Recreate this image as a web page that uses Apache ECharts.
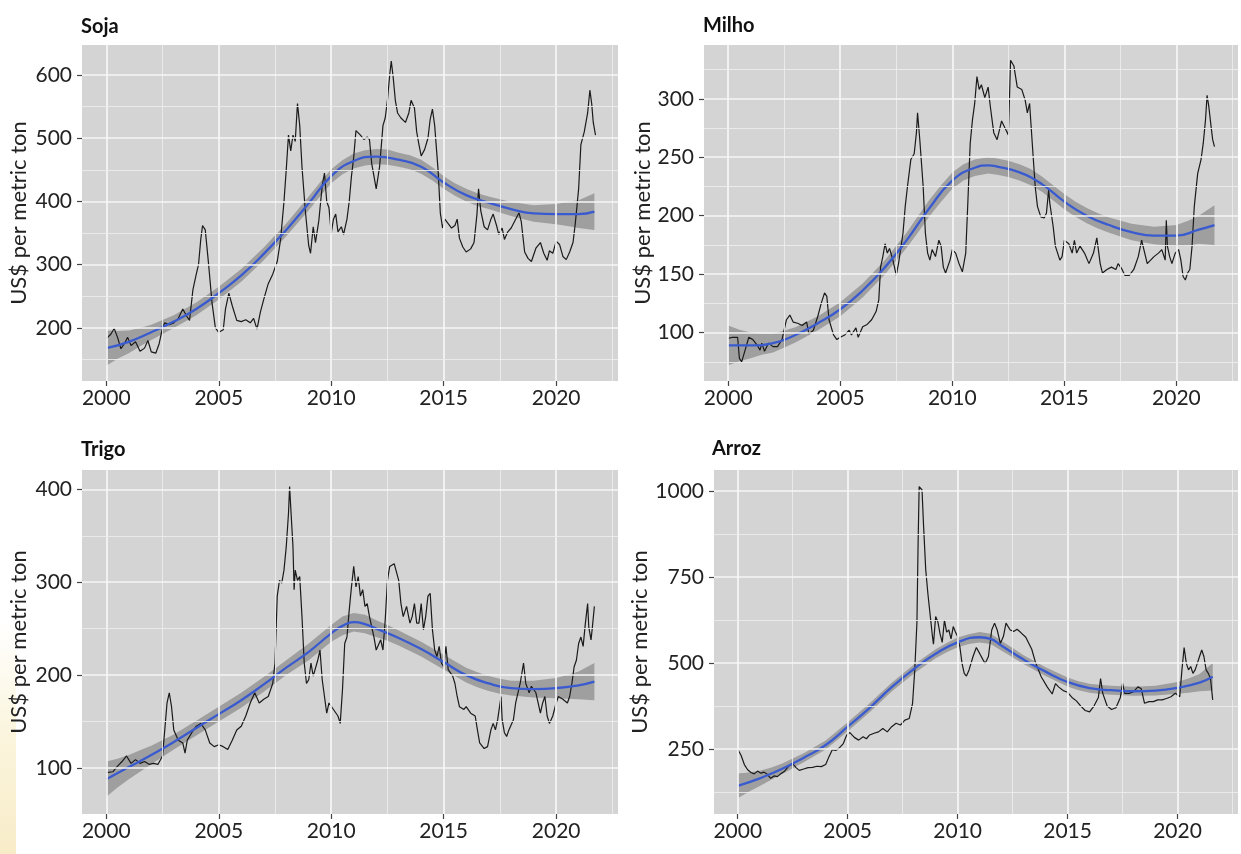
<!DOCTYPE html>
<html><head><meta charset="utf-8">
<script src="https://cdn.jsdelivr.net/npm/echarts@6/dist/echarts.min.js"></script>
<style>html,body{margin:0;padding:0;background:#fff}#c{width:1241px;height:854px}</style>
</head><body><div id="c"></div><script>
// ---------- DATA ----------
const panelTitles = ['Soja', 'Milho', 'Trigo', 'Arroz'];
const yAxisTitle = 'US$ per metric ton';
const yearTicks = [2000, 2005, 2010, 2015, 2020];
const yearMinor = [2002.5, 2007.5, 2012.5, 2017.5, 2022.5];

const sojaTicks = [200, 300, 400, 500, 600];
const sojaMinor = [150, 250, 350, 450, 550];
const milhoTicks = [100, 150, 200, 250, 300];
const milhoMinor = [75, 125, 175, 225, 275, 325];
const trigoTicks = [100, 200, 300, 400];
const trigoMinor = [150, 250, 350];
const arrozTicks = [250, 500, 750, 1000];
const arrozMinor = [125, 375, 625, 875];

// monthly price (year, US$/t)
const sojaPrice = [[2000.0,183],[2000.2,190],[2000.35,199],[2000.5,185],[2000.65,167],[2000.8,175],[2000.95,185],[2001.1,172],[2001.3,178],[2001.5,163],[2001.7,168],[2001.85,180],[2002.0,162],[2002.2,160],[2002.35,175],[2002.5,200],[2002.6,208],[2002.8,205],[2003.0,208],[2003.2,215],[2003.4,230],[2003.55,220],[2003.7,212],[2003.85,260],[2004.0,285],[2004.1,300],[2004.2,340],[2004.28,362],[2004.4,355],[2004.55,300],[2004.7,240],[2004.85,200],[2005.0,193],[2005.2,197],[2005.3,230],[2005.45,255],[2005.6,235],[2005.8,212],[2006.0,210],[2006.2,213],[2006.4,208],[2006.55,215],[2006.7,198],[2006.85,225],[2007.0,245],[2007.2,270],[2007.4,285],[2007.6,305],[2007.75,340],[2007.9,400],[2008.0,450],[2008.1,505],[2008.2,480],[2008.3,505],[2008.4,495],[2008.5,555],[2008.6,520],[2008.7,455],[2008.85,385],[2009.0,330],[2009.08,318],[2009.2,360],[2009.3,335],[2009.45,370],[2009.6,425],[2009.7,445],[2009.8,400],[2009.9,390],[2010.0,350],[2010.1,372],[2010.2,380],[2010.3,352],[2010.45,360],[2010.55,348],[2010.7,372],[2010.8,400],[2010.9,440],[2011.0,470],[2011.1,512],[2011.3,505],[2011.45,498],[2011.6,502],[2011.7,498],[2011.8,460],[2011.9,440],[2012.0,420],[2012.15,455],[2012.3,520],[2012.4,532],[2012.5,560],[2012.6,600],[2012.67,622],[2012.75,598],[2012.85,560],[2012.95,540],[2013.1,532],[2013.3,525],[2013.45,540],[2013.55,560],[2013.7,548],[2013.8,510],[2013.9,490],[2014.0,472],[2014.15,482],[2014.3,500],[2014.4,530],[2014.5,546],[2014.6,520],[2014.75,450],[2014.85,382],[2014.95,358],[2015.05,372],[2015.2,365],[2015.35,358],[2015.5,362],[2015.6,372],[2015.7,342],[2015.85,328],[2016.0,320],[2016.2,325],[2016.35,335],[2016.48,380],[2016.55,420],[2016.65,385],[2016.8,360],[2016.95,355],[2017.1,372],[2017.2,380],[2017.35,362],[2017.45,348],[2017.6,358],[2017.7,340],[2017.85,352],[2018.0,358],[2018.2,372],[2018.35,382],[2018.45,368],[2018.6,320],[2018.75,310],[2018.9,305],[2019.1,326],[2019.3,335],[2019.45,318],[2019.6,307],[2019.7,322],[2019.85,318],[2020.0,337],[2020.15,332],[2020.3,313],[2020.45,308],[2020.6,320],[2020.75,335],[2020.85,365],[2021.0,420],[2021.1,490],[2021.25,510],[2021.4,540],[2021.5,576],[2021.58,555],[2021.65,525],[2021.75,505]];
const sojaFit = [[2000,168],[2001,178],[2002,193],[2003,210],[2004,230],[2005,255],[2006,283],[2007,317],[2008,355],[2009,397],[2010,440],[2011,464],[2012,471],[2013,466],[2014,455],[2015,430],[2016,410],[2017,398],[2018,388],[2019,381],[2020,380],[2021,380],[2021.7,384]];
const sojaBand = [[2000,140,196],[2000.5,151,195],[2001,160,196],[2001.5,171,200],[2002,181,205],[2003,200,220],[2004,220,240],[2005,245,265],[2006,273,293],[2007,307,327],[2008,345,365],[2009,386,408],[2009.5,408,430],[2010,429,451],[2010.5,443,465],[2011,452,476],[2011.5,457,481],[2012,459,483],[2012.5,458,482],[2013,455,477],[2013.5,451,473],[2014,444,466],[2014.5,433,454],[2015,420,440],[2015.5,409,429],[2016,400,420],[2016.5,393,413],[2017,388,408],[2018,377,399],[2019,368,394],[2020,364,396],[2020.5,361,399],[2021,358,402],[2021.7,355,413]];

const milhoPrice = [[2000.0,95],[2000.2,96],[2000.42,96],[2000.5,78],[2000.6,75],[2000.8,88],[2000.92,96],[2001.1,94],[2001.3,89],[2001.42,85],[2001.5,91],[2001.62,84],[2001.8,91],[2002.0,88],[2002.2,88],[2002.4,94],[2002.6,111],[2002.75,115],[2002.9,109],[2003.1,108],[2003.3,106],[2003.5,109],[2003.6,99],[2003.8,102],[2004.0,114],[2004.15,125],[2004.3,134],[2004.4,131],[2004.5,111],[2004.7,98],[2004.85,94],[2005.0,96],[2005.2,98],[2005.4,102],[2005.5,98],[2005.7,104],[2005.8,96],[2006.0,105],[2006.2,107],[2006.4,111],[2006.6,118],[2006.72,128],[2006.8,156],[2006.9,165],[2007.0,176],[2007.1,168],[2007.2,172],[2007.35,162],[2007.5,149],[2007.6,159],[2007.8,185],[2007.9,208],[2008.0,225],[2008.15,248],[2008.3,253],[2008.4,271],[2008.45,288],[2008.55,265],[2008.7,225],[2008.8,185],[2008.9,168],[2009.0,162],[2009.1,171],[2009.25,165],[2009.4,179],[2009.5,174],[2009.6,156],[2009.7,151],[2009.9,162],[2010.0,171],[2010.15,168],[2010.3,159],[2010.45,152],[2010.6,168],[2010.7,214],[2010.8,262],[2010.9,282],[2011.0,296],[2011.1,319],[2011.2,308],[2011.3,312],[2011.45,301],[2011.6,310],[2011.7,293],[2011.85,271],[2012.0,265],[2012.1,273],[2012.2,281],[2012.4,273],[2012.5,269],[2012.55,299],[2012.6,333],[2012.75,328],[2012.9,310],[2013.1,308],[2013.25,299],[2013.35,288],[2013.45,296],[2013.6,253],[2013.7,225],[2013.8,208],[2013.95,199],[2014.1,198],[2014.2,202],[2014.3,222],[2014.35,211],[2014.5,191],[2014.6,174],[2014.8,162],[2014.9,165],[2015.0,179],[2015.2,176],[2015.35,168],[2015.45,179],[2015.55,168],[2015.7,174],[2015.9,168],[2016.1,159],[2016.3,168],[2016.45,181],[2016.6,159],[2016.7,151],[2016.9,154],[2017.1,156],[2017.3,154],[2017.4,159],[2017.55,155],[2017.7,149],[2017.9,149],[2018.1,154],[2018.3,165],[2018.45,179],[2018.55,171],[2018.7,159],[2018.85,162],[2019.0,165],[2019.2,168],[2019.35,171],[2019.5,162],[2019.55,196],[2019.6,174],[2019.7,165],[2019.8,159],[2019.95,168],[2020.1,171],[2020.2,162],[2020.3,148],[2020.4,145],[2020.5,151],[2020.6,154],[2020.7,174],[2020.8,208],[2020.95,236],[2021.1,248],[2021.2,262],[2021.3,282],[2021.37,303],[2021.45,293],[2021.55,276],[2021.62,265],[2021.7,259]];
const milhoFit = [[2000,89],[2001,89],[2002,91],[2003,98],[2004,108],[2005,120],[2006,136],[2007,156],[2008,180],[2009,207],[2010,230],[2011,241],[2011.6,243],[2012,242],[2013,237],[2014,227],[2015,212],[2016,200],[2017,192],[2018,186],[2019,183],[2020,183],[2021,188],[2021.7,192]];
const milhoBand = [[2000,72,106],[2000.5,75.5,102.5],[2001,78,100],[2001.5,81,99],[2002,83,99],[2003,91.5,104.5],[2004,102,114],[2005,114,126],[2006,130,142],[2007,150,162],[2008,173.5,186.5],[2008.5,186.5,200.5],[2009,200,214],[2009.5,212,226],[2010,223,237],[2010.5,230,244],[2011,234,248],[2011.6,236,250],[2012,235,249],[2012.5,233,247],[2013,230,244],[2013.5,226,240],[2014,220.5,233.5],[2014.5,213,226],[2015,205.5,218.5],[2015.5,199,212],[2016,193.5,206.5],[2016.5,189,202],[2017,185.5,198.5],[2018,179,193],[2019,175.5,190.5],[2020,174,192],[2020.5,174.5,195.5],[2021,176,200],[2021.7,175,209]];

const trigoPrice = [[2000.0,95],[2000.3,96],[2000.5,102],[2000.7,107],[2000.9,113],[2001.1,105],[2001.3,109],[2001.5,105],[2001.7,107],[2001.9,104],[2002.1,105],[2002.3,104],[2002.5,113],[2002.6,141],[2002.7,170],[2002.8,181],[2002.9,166],[2003.0,141],[2003.2,130],[2003.4,127],[2003.5,116],[2003.6,130],[2003.8,138],[2004.0,145],[2004.2,148],[2004.4,141],[2004.6,127],[2004.8,123],[2005.0,125],[2005.2,123],[2005.4,120],[2005.6,130],[2005.8,141],[2006.0,145],[2006.2,156],[2006.4,170],[2006.6,181],[2006.8,170],[2007.0,174],[2007.2,177],[2007.4,191],[2007.5,213],[2007.6,285],[2007.7,302],[2007.8,299],[2007.9,313],[2008.0,338],[2008.1,374],[2008.15,403],[2008.2,381],[2008.3,338],[2008.35,292],[2008.4,313],[2008.5,302],[2008.6,306],[2008.7,263],[2008.8,213],[2008.9,191],[2009.0,195],[2009.1,213],[2009.2,199],[2009.4,216],[2009.5,227],[2009.6,195],[2009.7,177],[2009.8,159],[2009.9,170],[2010.1,163],[2010.3,156],[2010.4,148],[2010.5,184],[2010.6,234],[2010.7,241],[2010.8,270],[2010.9,295],[2011.0,317],[2011.1,295],[2011.2,306],[2011.3,285],[2011.4,292],[2011.5,274],[2011.6,277],[2011.7,263],[2011.8,252],[2011.9,241],[2012.0,227],[2012.2,238],[2012.3,227],[2012.4,259],[2012.5,302],[2012.6,317],[2012.8,320],[2013.0,302],[2013.1,277],[2013.2,263],[2013.35,274],[2013.5,256],[2013.6,263],[2013.7,277],[2013.8,256],[2013.9,256],[2014.0,277],[2014.1,249],[2014.2,263],[2014.3,285],[2014.4,288],[2014.5,249],[2014.6,227],[2014.7,220],[2014.8,231],[2014.9,213],[2015.0,209],[2015.1,231],[2015.2,206],[2015.4,199],[2015.5,191],[2015.6,177],[2015.7,166],[2015.9,163],[2016.0,166],[2016.2,159],[2016.4,156],[2016.5,141],[2016.6,127],[2016.8,121],[2016.95,123],[2017.1,141],[2017.2,148],[2017.3,141],[2017.4,152],[2017.55,177],[2017.6,152],[2017.7,138],[2017.8,134],[2017.9,141],[2018.1,152],[2018.2,170],[2018.4,191],[2018.55,213],[2018.65,191],[2018.8,181],[2018.9,188],[2019.1,181],[2019.3,159],[2019.4,170],[2019.5,177],[2019.6,156],[2019.7,148],[2019.85,156],[2020.0,170],[2020.1,177],[2020.3,174],[2020.5,170],[2020.6,177],[2020.7,191],[2020.8,209],[2020.9,216],[2021.0,234],[2021.1,241],[2021.2,231],[2021.3,256],[2021.4,277],[2021.45,252],[2021.55,238],[2021.6,249],[2021.7,274]];
const trigoFit = [[2000,88],[2001,101],[2002,114],[2003,128],[2004,143],[2005,158],[2006,173],[2007,190],[2008,208],[2009,225],[2010,245],[2010.5,253],[2011,257],[2011.5,255],[2012,250],[2013,240],[2014,228],[2015,214],[2016,200],[2017,191],[2018,186],[2019,185],[2020,186],[2021,189],[2021.7,193]];
const trigoBand = [[2000,69,107],[2000.5,79,110],[2001,88,114],[2001.5,96,119],[2002,104,124],[2003,120,136],[2004,135,151],[2005,150,166],[2006,165,181],[2007,182,198],[2008,200,216],[2009,216,234],[2009.5,226,244],[2010,236,254],[2010.5,243,263],[2011,247,267],[2011.5,245,265],[2012,241,259],[2012.5,237,254],[2013,232,248],[2014,220,236],[2015,206,222],[2016,192,208],[2016.5,187,203],[2017,183,199],[2017.5,180,196],[2018,178,194],[2019,176,194],[2020,175,197],[2020.5,174.5,200],[2021,174,204],[2021.7,173,213]];

const arrozPrice = [[2000.0,249],[2000.15,232],[2000.3,205],[2000.45,190],[2000.6,182],[2000.75,178],[2000.9,186],[2001.05,180],[2001.2,183],[2001.35,176],[2001.5,165],[2001.65,172],[2001.8,170],[2001.95,178],[2002.1,184],[2002.3,199],[2002.5,208],[2002.65,196],[2002.8,188],[2003.0,192],[2003.2,196],[2003.4,197],[2003.6,200],[2003.8,199],[2004.0,205],[2004.15,228],[2004.3,248],[2004.45,246],[2004.6,252],[2004.8,266],[2004.95,290],[2005.1,298],[2005.3,284],[2005.5,276],[2005.7,286],[2005.85,280],[2006.0,291],[2006.2,296],[2006.4,300],[2006.6,310],[2006.8,300],[2007.0,315],[2007.2,325],[2007.4,320],[2007.6,334],[2007.8,339],[2007.95,383],[2008.05,480],[2008.15,620],[2008.2,840],[2008.25,1013],[2008.32,1008],[2008.38,1003],[2008.45,900],[2008.55,770],[2008.65,700],[2008.75,640],[2008.85,580],[2008.9,555],[2009.0,635],[2009.1,620],[2009.2,585],[2009.3,560],[2009.4,625],[2009.5,590],[2009.6,596],[2009.7,570],[2009.8,606],[2009.9,590],[2010.0,577],[2010.1,548],[2010.2,499],[2010.3,470],[2010.4,462],[2010.52,480],[2010.7,519],[2010.85,545],[2011.0,528],[2011.15,510],[2011.25,499],[2011.4,519],[2011.55,596],[2011.68,616],[2011.8,596],[2011.94,557],[2012.08,577],[2012.2,616],[2012.39,596],[2012.55,592],[2012.7,598],[2012.85,590],[2013.1,575],[2013.37,540],[2013.55,500],[2013.8,460],[2014.08,430],[2014.3,410],[2014.45,440],[2014.6,430],[2014.8,420],[2015.0,415],[2015.2,400],[2015.4,390],[2015.6,375],[2015.8,362],[2016.0,358],[2016.2,375],[2016.4,400],[2016.5,455],[2016.6,412],[2016.8,375],[2017.0,365],[2017.2,370],[2017.4,400],[2017.5,441],[2017.6,412],[2017.8,412],[2018.0,417],[2018.2,431],[2018.35,425],[2018.5,383],[2018.7,388],[2018.9,388],[2019.1,393],[2019.3,393],[2019.5,397],[2019.7,402],[2019.9,412],[2020.1,402],[2020.2,480],[2020.3,545],[2020.4,499],[2020.5,480],[2020.6,490],[2020.7,470],[2020.8,480],[2020.9,499],[2021.0,519],[2021.1,538],[2021.2,519],[2021.3,480],[2021.4,470],[2021.5,455],[2021.6,393]];
const arrozFit = [[2000,143],[2001,165],[2002,192],[2003,225],[2004,262],[2005,315],[2006,370],[2007,430],[2008,482],[2009,527],[2010,560],[2011,575],[2011.5,570],[2012,550],[2013,510],[2014,475],[2015,445],[2016,427],[2017,421],[2018,418],[2019,420],[2020,428],[2021,443],[2021.6,460]];
const arrozBand = [[2000,107,179],[2000.5,126,182],[2001,143,187],[2001.5,160,196],[2002,177,207],[2003,212,238],[2004,249,275],[2005,302,328],[2006,357,383],[2007,417,443],[2008,469,495],[2009,514,540],[2009.5,531,558],[2010,546,574],[2010.5,555,584],[2011,560,590],[2011.5,555,585],[2012,536,564],[2012.5,517,544],[2013,497,523],[2014,462,488],[2015,432,458],[2015.5,421,447],[2016,414,440],[2016.5,410,436],[2017,408,434],[2018,405,431],[2019,406,434],[2020,411,445],[2020.5,414,455],[2021,418,468],[2021.6,420,500]];

// ---------- LAYOUT ----------
const panels = [
  {title: panelTitles[0], price: sojaPrice, fit: sojaFit, band: sojaBand, ticks: sojaTicks, minor: sojaMinor,
   grid: {left: 82, top: 45, width: 536, height: 336}, ymin: 116, ymax: 647.5, nameGap: 52, tl: 81, tt: 17},
  {title: panelTitles[1], price: milhoPrice, fit: milhoFit, band: milhoBand, ticks: milhoTicks, minor: milhoMinor,
   grid: {left: 704, top: 45, width: 534, height: 336}, ymin: 58.6, ymax: 346, nameGap: 50, tl: 703, tt: 16},
  {title: panelTitles[2], price: trigoPrice, fit: trigoFit, band: trigoBand, ticks: trigoTicks, minor: trigoMinor,
   grid: {left: 82, top: 470, width: 536, height: 344}, ymin: 50.5, ymax: 420.8, nameGap: 52, tl: 81, tt: 440},
  {title: panelTitles[3], price: arrozPrice, fit: arrozFit, band: arrozBand, ticks: arrozTicks, minor: arrozMinor,
   grid: {left: 714, top: 470, width: 524, height: 344}, ymin: 61.3, ymax: 1061, nameGap: 60, tl: 712, tt: 439}
];
const XMIN = 1998.92, XMAX = 2022.75;
const FONT = 'Lato, "Open Sans", sans-serif';

const option = {
  animation: false,
  backgroundColor: '#ffffff',
  title: [], grid: [], xAxis: [], yAxis: [], series: [],
  graphic: [{
    type: 'rect', left: 0, top: 620, shape: {width: 16, height: 234}, silent: true,
    style: {fill: new echarts.graphic.LinearGradient(0, 0, 0, 1, [
      {offset: 0, color: 'rgba(250,242,212,0)'}, {offset: 0.5, color: 'rgba(250,242,212,0.8)'}, {offset: 1, color: 'rgba(248,236,200,1)'}])}
  }]
};

panels.forEach((p, i) => {
  option.title.push({text: p.title, left: p.tl, top: p.tt, padding: 0,
    textStyle: {fontFamily: FONT, fontWeight: 'bold', fontSize: 20, color: '#111'}});
  option.grid.push(Object.assign({show: true, backgroundColor: '#d4d4d4', borderWidth: 0, containLabel: false}, p.grid));
  option.xAxis.push({
    gridIndex: i, type: 'value', min: XMIN, max: XMAX,
    axisLine: {show: false}, splitLine: {show: false},
    axisTick: {show: true, customValues: yearTicks, length: 5, lineStyle: {color: '#444', width: 1.2}},
    axisLabel: {customValues: yearTicks, formatter: v => String(Math.round(v)), fontFamily: FONT, fontSize: 21, color: '#222', margin: 7}
  });
  option.yAxis.push({
    gridIndex: i, type: 'value', min: p.ymin, max: p.ymax,
    name: yAxisTitle, nameLocation: 'middle', nameGap: p.nameGap,
    nameTextStyle: {fontFamily: FONT, fontSize: 22, color: '#222'},
    axisLine: {show: false}, splitLine: {show: false},
    axisTick: {show: true, customValues: p.ticks, length: 5, lineStyle: {color: '#444', width: 1.2}},
    axisLabel: {customValues: p.ticks, formatter: v => String(Math.round(v)), fontFamily: FONT, fontSize: 21, color: '#222', margin: 10}
  });
  const gl = [];
  yearTicks.forEach(v => gl.push({xAxis: v, lineStyle: {color: '#f6f6f6', width: 1.7}}));
  yearMinor.forEach(v => gl.push({xAxis: v, lineStyle: {color: '#ececec', width: 0.9}}));
  p.ticks.forEach(v => gl.push({yAxis: v, lineStyle: {color: '#f6f6f6', width: 1.7}}));
  p.minor.forEach(v => gl.push({yAxis: v, lineStyle: {color: '#ececec', width: 0.9}}));
  option.series.push({
    type: 'line', xAxisIndex: i, yAxisIndex: i, data: [[2000, p.ticks[0]]], symbol: 'none',
    lineStyle: {opacity: 0}, silent: true, z: 1,
    markLine: {silent: true, symbol: ['none', 'none'], label: {show: false}, animation: false,
      emphasis: {disabled: true}, lineStyle: {type: 'solid'}, data: gl}
  });
  option.series.push({
    type: 'custom', xAxisIndex: i, yAxisIndex: i, data: p.band, encode: {x: 0, y: [1, 2]}, z: 2, silent: true, clip: true,
    renderItem: (params, api) => {
      if (params.dataIndex !== 0) return null;
      const up = p.band.map(r => api.coord([r[0], r[2]]));
      const lo = p.band.map(r => api.coord([r[0], r[1]])).reverse();
      return {type: 'polygon', shape: {points: up.concat(lo)},
        style: {fill: 'rgba(105,105,105,0.5)', stroke: null}};
    }
  });
  option.series.push({
    type: 'line', xAxisIndex: i, yAxisIndex: i, data: p.price, showSymbol: false, symbol: 'none', z: 3,
    lineStyle: {color: '#1a1a1a', width: 1.2}
  });
  option.series.push({
    type: 'line', xAxisIndex: i, yAxisIndex: i, data: p.fit, showSymbol: false, symbol: 'none', smooth: 0.5, z: 4,
    lineStyle: {color: '#3a5bd0', width: 2.3}
  });
});

const chart = echarts.init(document.getElementById('c'), null, {renderer: 'canvas'});
chart.setOption(option);
</script></body></html>
